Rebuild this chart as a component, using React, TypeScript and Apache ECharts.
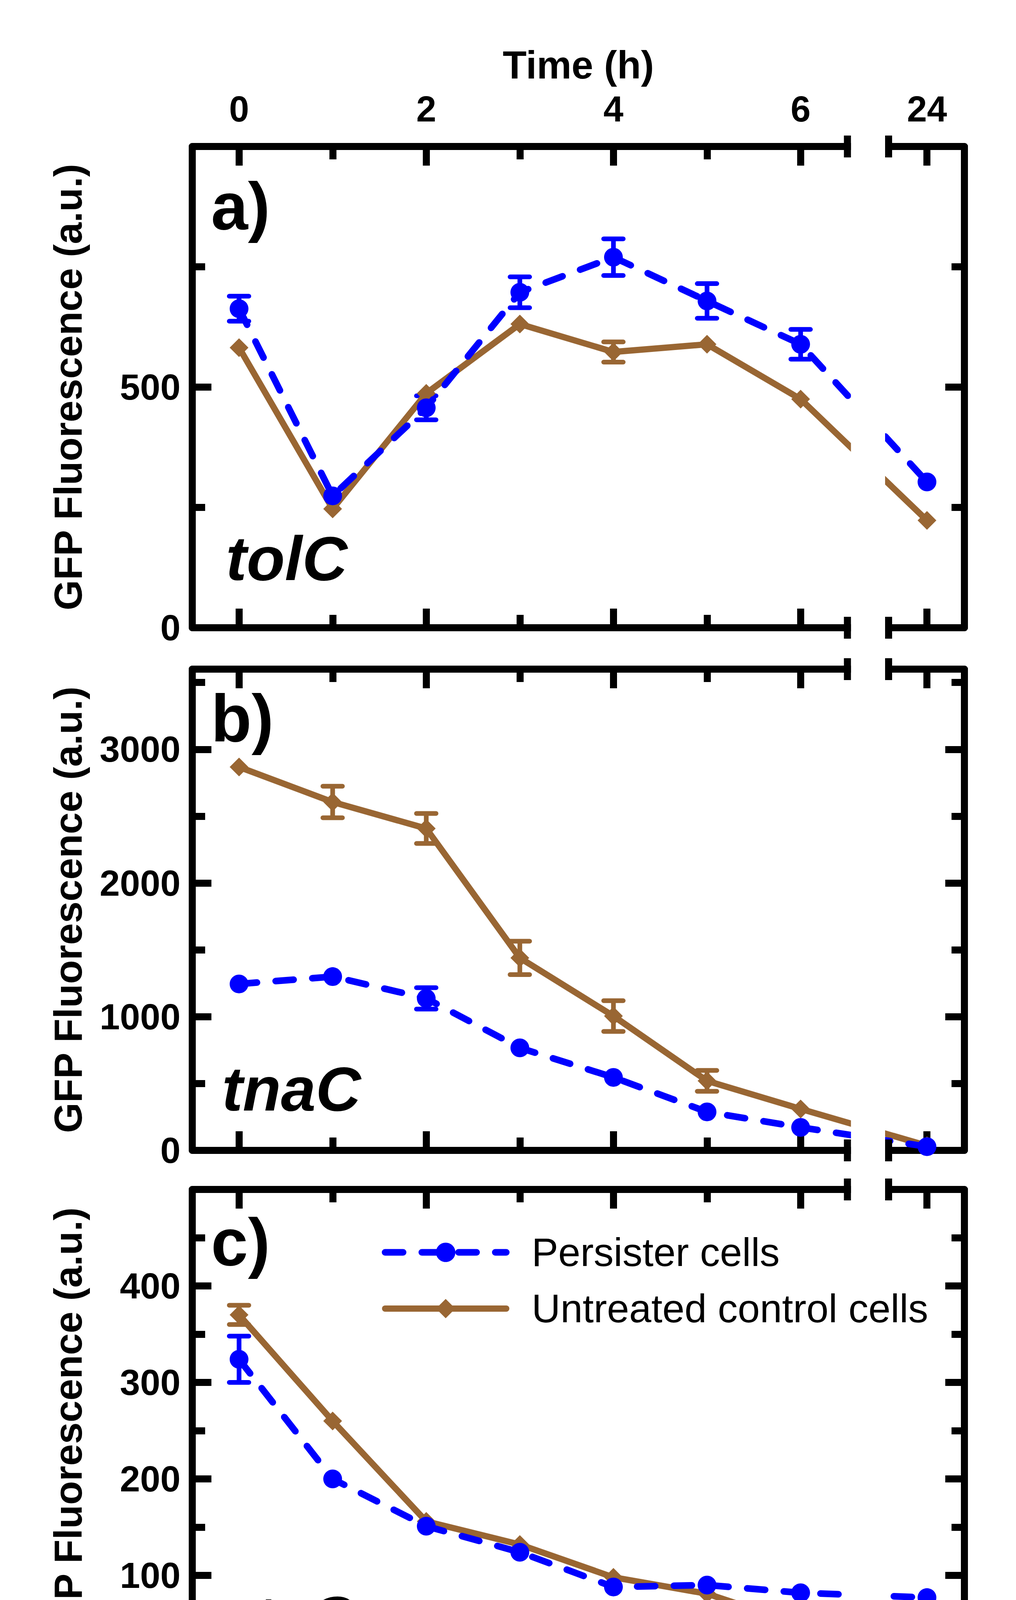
import React, { useEffect, useRef } from 'react';
import * as echarts from 'echarts';

// ---------- data ----------
const TIMES = [0, 1, 2, 3, 4, 5, 6, 24];
const X_LABEL_TIMES = [0, 2, 4, 6, 24];
const X_MINOR_TIMES = [1, 3, 5];

const TOLC_PERSISTER = [663, 274, 457, 697, 770, 679, 589, 303];
const TOLC_PERSISTER_ERR = [26, 0, 25, 32, 38, 36, 31, 0];
const TOLC_UNTREATED = [582, 247, 487, 631, 573, 589, 475, 223];
const TOLC_UNTREATED_ERR = [0, 0, 0, 0, 21, 0, 0, 0];

const TNAC_PERSISTER = [1245, 1300, 1137, 767, 546, 288, 172, 28];
const TNAC_PERSISTER_ERR = [0, 0, 80, 0, 0, 0, 0, 0];
const TNAC_UNTREATED = [2868, 2606, 2408, 1440, 1005, 520, 310, 35];
const TNAC_UNTREATED_ERR = [0, 118, 112, 125, 115, 78, 0, 0];

const PTSG_PERSISTER = [324, 200, 151, 124, 88, 90, 82, 77];
const PTSG_PERSISTER_ERR = [24, 0, 0, 0, 0, 0, 0, 0];
const PTSG_UNTREATED = [370, 260, 156, 132, 98, 81, 49, 52];
const PTSG_UNTREATED_ERR = [10, 0, 0, 0, 0, 0, 0, 0];

const Y_MAX = [1000, 3600, 500];
const Y_LABEL_STEP = [500, 1000, 100];
const Y_MINOR_STEP = [250, 500, 50];
const GENES = ['tolC', 'tnaC', 'ptsG'];
const PANEL_LETTERS = ['a)', 'b)', 'c)'];
const SERIES_NAMES = ['Persister cells', 'Untreated control cells'];
const X_TITLE = 'Time (h)';
const Y_TITLE = 'GFP Fluorescence (a.u.)';

const PANELS = [
  { persister: TOLC_PERSISTER, persisterErr: TOLC_PERSISTER_ERR, untreated: TOLC_UNTREATED, untreatedErr: TOLC_UNTREATED_ERR },
  { persister: TNAC_PERSISTER, persisterErr: TNAC_PERSISTER_ERR, untreated: TNAC_UNTREATED, untreatedErr: TNAC_UNTREATED_ERR },
  { persister: PTSG_PERSISTER, persisterErr: PTSG_PERSISTER_ERR, untreated: PTSG_UNTREATED, untreatedErr: PTSG_UNTREATED_ERR },
];

// ---------- layout ----------
const W = 2600;
const H = 4634;
const GRID_LEFT = 492;
const GRID_W = 1976;
const GRID_TOPS = [375, 1713, 3045];
const GRID_HS = [1232, 1232, 1235];
const GENE_X = [578, 568, 550];
const GENE_Y = [1429, 2787, 4143];
const LETTER_Y = [528, 1839, 3180];
const XMIN = -0.5;
const XMAX = 7.75;
const POS24 = 7.35; // display position of 24 h on the broken axis
const BREAK_L = 6.5;
const BREAK_R = 6.94;

const BLUE = '#0000ff';
const BROWN = '#996633';
const FONT = '"Liberation Sans", Arial, Helvetica, sans-serif';
const AXW = 18;

const axisPos = (t: number) => (t > 6 ? POS24 : t);
const posLabel = (v: number) => (Math.abs(v - POS24) < 1e-6 ? '24' : String(Math.round(v)));
const xPx = (v: number) => GRID_LEFT + ((v - XMIN) / (XMAX - XMIN)) * GRID_W;

function buildOption() {
  const grid: any[] = [];
  const xAxis: any[] = [];
  const yAxis: any[] = [];
  const series: any[] = [];
  const graphic: any[] = [];

  PANELS.forEach((p, gi) => {
    const top = GRID_TOPS[gi];
    const h = GRID_HS[gi];
    grid.push({ left: GRID_LEFT, top, width: GRID_W, height: h, containLabel: false, outerBoundsMode: 'none' });

    const majorX = X_LABEL_TIMES.map(axisPos);
    const minorX = X_MINOR_TIMES.map(axisPos);
    const mkX = (position: string, main: boolean, showLabel: boolean) => ({
      type: 'value',
      gridIndex: gi,
      position,
      min: XMIN,
      max: XMAX,
      splitLine: { show: false },
      axisLine: { show: main, onZero: false, lineStyle: { color: '#000', width: AXW } },
      axisTick: {
        show: true,
        inside: true,
        length: main ? 49 : 33,
        lineStyle: { color: '#000', width: AXW },
        customValues: main ? majorX : minorX,
      },
      axisLabel: {
        show: showLabel,
        customValues: majorX,
        formatter: (v: number) => posLabel(v),
        fontSize: 92,
        fontWeight: 'bold',
        fontFamily: FONT,
        color: '#000',
        margin: position === 'top' ? 50 : 43,
      },
    });
    const xMainBottom = xAxis.length;
    xAxis.push(mkX('bottom', true, gi === 2));
    xAxis.push(mkX('bottom', false, false));
    xAxis.push(mkX('top', true, gi === 0));
    xAxis.push(mkX('top', false, false));

    const max = Y_MAX[gi];
    const step = Y_LABEL_STEP[gi];
    const mkY = (position: string, main: boolean, showLabel: boolean) => ({
      type: 'value',
      gridIndex: gi,
      position,
      min: 0,
      max,
      interval: main ? step : Y_MINOR_STEP[gi],
      splitLine: { show: false },
      axisLine: { show: main, onZero: false, lineStyle: { color: '#000', width: AXW } },
      axisTick: { show: true, inside: true, length: main ? 49 : 33, lineStyle: { color: '#000', width: AXW } },
      axisLabel: {
        show: showLabel,
        formatter: (v: number) => (v < max && v % step === 0 ? String(v) : ''),
        fontSize: 93,
        fontWeight: 'bold',
        fontFamily: FONT,
        color: '#000',
        margin: 30,
      },
    });
    const yMainLeft = yAxis.length;
    yAxis.push(mkY('left', true, true));
    yAxis.push(mkY('left', false, false));
    yAxis.push(mkY('right', true, false));
    yAxis.push(mkY('right', false, false));

    const errData = (vals: number[], errs: number[]) =>
      TIMES.map((t, i) => [axisPos(t), vals[i] - errs[i], vals[i] + errs[i], errs[i]]).filter((d) => d[3] > 0);

    const errSeries = (name: string, vals: number[], errs: number[], color: string) => ({
      type: 'custom',
      name,
      xAxisIndex: xMainBottom,
      yAxisIndex: yMainLeft,
      z: 1,
      clip: false,
      silent: true,
      data: errData(vals, errs),
      encode: { x: 0, y: [1, 2] },
      renderItem: (params: any, api: any) => {
        const x = api.value(0);
        const lo = api.coord([x, api.value(1)]);
        const hi = api.coord([x, api.value(2)]);
        const half = 25;
        const st = { stroke: color, lineWidth: 12, lineCap: 'round' };
        return {
          type: 'group',
          children: [
            { type: 'line', shape: { x1: lo[0], y1: lo[1], x2: hi[0], y2: hi[1] }, style: { stroke: color, lineWidth: 12 } },
            { type: 'line', shape: { x1: lo[0] - half, y1: lo[1], x2: lo[0] + half, y2: lo[1] }, style: st },
            { type: 'line', shape: { x1: hi[0] - half, y1: hi[1], x2: hi[0] + half, y2: hi[1] }, style: st },
          ],
        };
      },
    });

    series.push(errSeries('err-u-' + gi, p.untreated, p.untreatedErr, BROWN));
    series.push(errSeries('err-p-' + gi, p.persister, p.persisterErr, BLUE));

    series.push({
      type: 'line',
      name: SERIES_NAMES[1],
      xAxisIndex: xMainBottom,
      yAxisIndex: yMainLeft,
      z: 3,
      data: TIMES.map((t, i) => [axisPos(t), p.untreated[i]]),
      symbol: 'diamond',
      symbolSize: 48,
      showAllSymbol: true,
      itemStyle: { color: BROWN },
      lineStyle: { color: BROWN, width: 16, type: 'solid', cap: 'round' },
    });
    series.push({
      type: 'line',
      name: SERIES_NAMES[0],
      xAxisIndex: xMainBottom,
      yAxisIndex: yMainLeft,
      z: 4,
      data: TIMES.map((t, i) => [axisPos(t), p.persister[i]]),
      symbol: 'circle',
      symbolSize: 48,
      showAllSymbol: true,
      itemStyle: { color: BLUE },
      lineStyle: { color: BLUE, width: 17, type: [46, 48], cap: 'round' },
    });

    // axis break: white gap and end ticks
    const bl = xPx(BREAK_L);
    const br = xPx(BREAK_R);
    graphic.push({
      type: 'rect',
      z: 50,
      silent: true,
      shape: { x: bl + AXW / 2, y: top - 40, width: br - bl - AXW, height: h + 80 },
      style: { fill: '#fff' },
    });
    [top, top + h].forEach((yy) => {
      [bl, br].forEach((xx) => {
        graphic.push({
          type: 'line',
          z: 51,
          silent: true,
          shape: { x1: xx, y1: yy - 28, x2: xx, y2: yy + 28 },
          style: { stroke: '#000', lineWidth: AXW },
        });
      });
    });

    // y title
    graphic.push({
      type: 'text',
      z: 60,
      x: 174,
      y: top + h / 2,
      rotation: Math.PI / 2,
      style: {
        text: Y_TITLE,
        fill: '#000',
        fontSize: 100,
        fontWeight: 'bold',
        fontFamily: FONT,
        align: 'center',
        verticalAlign: 'middle',
        textAlign: 'center',
        textVerticalAlign: 'middle',
      },
    });
    // panel letter
    graphic.push({
      type: 'text',
      z: 60,
      x: 540,
      y: LETTER_Y[gi],
      style: {
        text: PANEL_LETTERS[gi],
        fill: '#000',
        fontSize: 170,
        fontWeight: 'bold',
        fontFamily: FONT,
        align: 'left',
        verticalAlign: 'middle',
        textAlign: 'left',
        textVerticalAlign: 'middle',
      },
    });
    // gene name
    graphic.push({
      type: 'text',
      z: 60,
      x: GENE_X[gi],
      y: GENE_Y[gi],
      style: {
        text: GENES[gi],
        fill: '#000',
        fontSize: 160,
        fontWeight: 'bold',
        fontStyle: 'italic',
        fontFamily: FONT,
        align: 'left',
        verticalAlign: 'middle',
        textAlign: 'left',
        textVerticalAlign: 'middle',
      },
    });
  });

  // x titles
  const xMid = GRID_LEFT + GRID_W / 2;
  [166, 4472].forEach((yy) => {
    graphic.push({
      type: 'text',
      z: 60,
      x: xMid,
      y: yy,
      style: {
        text: X_TITLE,
        fill: '#000',
        fontSize: 100,
        fontWeight: 'bold',
        fontFamily: FONT,
        align: 'center',
        verticalAlign: 'middle',
        textAlign: 'center',
        textVerticalAlign: 'middle',
      },
    });
  });

  return {
    animation: false,
    backgroundColor: '#fff',
    grid,
    xAxis,
    yAxis,
    series,
    graphic,
    legend: {
      show: true,
      z: 80,
      orient: 'vertical',
      left: 977,
      top: 3155,
      padding: 0,
      itemWidth: 310,
      itemHeight: 62,
      itemGap: 42,
      selectedMode: false,
      data: SERIES_NAMES,
      lineStyle: { width: 'inherit', type: 'inherit', cap: 'inherit' },
      textStyle: { fontSize: 102, fontFamily: FONT, color: '#000', padding: [0, 0, 0, 60] },
    },
  };
}

export default function App() {
  const ref = useRef<HTMLDivElement>(null);
  useEffect(() => {
    document.body.style.margin = '0';
    if (!ref.current) return;
    const chart = echarts.init(ref.current, undefined, { renderer: 'svg', width: W, height: H });
    chart.setOption(buildOption() as any);
    return () => chart.dispose();
  }, []);
  return <div ref={ref} style={{ display: 'block', width: W, height: H, background: '#fff', margin: 0 }} />;
}
